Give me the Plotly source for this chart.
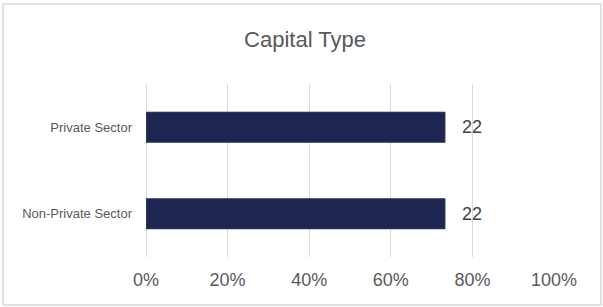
import plotly.graph_objects as go

categories = ["Non-Private Sector", "Private Sector"]
share_pct = [73.3, 73.3]
count_labels = ["22", "22"]
tick_vals = [0, 20, 40, 60, 80, 100]
tick_text = ["0%", "20%", "40%", "60%", "80%", "100%"]

W, H = 603, 307
L, R, T, B = 146, 49, 84, 50
pw, ph = W - L - R, H - T - B

def px_x(x):
    return (x - L) / pw

def px_y(y):
    return (H - B - y) / ph

FONT = "Liberation Sans, Arial"

fig = go.Figure(go.Bar(
    y=categories, x=share_pct, orientation="h",
    marker=dict(color="#1F2551", line=dict(color="#3A4470", width=0.8)),
    width=0.35,
    hoverinfo="skip",
))

annotations = [
    dict(x=v, y=c, xref="x", yref="y", text=t, showarrow=False,
         xanchor="left", yanchor="middle", xshift=15,
         font=dict(family=FONT, size=18, color="#404040"))
    for c, v, t in zip(categories, share_pct, count_labels)
]

fig.update_layout(
    width=W, height=H,
    margin=dict(l=L, r=R, t=T, b=B),
    paper_bgcolor="white", plot_bgcolor="white",
    showlegend=False,
    title=dict(text="Capital Type", x=(305 - L) / pw, xanchor="center", xref="paper",
               y=1 - 39 / H, yanchor="middle",
               font=dict(family=FONT, size=22, color="#595959")),
    xaxis=dict(range=[0, 100], tickvals=tick_vals, ticktext=tick_text,
               showgrid=True, gridcolor="#D9D9D9", gridwidth=1,
               zeroline=True, zerolinecolor="#D9D9D9", zerolinewidth=1,
               showline=False, ticks="", ticklabelstandoff=10,
               tickfont=dict(family=FONT, size=18, color="#595959")),
    yaxis=dict(showgrid=False, zeroline=False, showline=False, ticks="",
               ticklabelstandoff=13,
               tickfont=dict(family=FONT, size=13, color="#595959")),
    annotations=annotations,
    shapes=[dict(type="rect", xref="paper", yref="paper",
                 x0=px_x(3), x1=px_x(601), y0=px_y(305), y1=px_y(4),
                 line=dict(color="#D9D9D9", width=1.5), fillcolor="rgba(0,0,0,0)",
                 layer="below")],
)

fig.write_html("out.html", config={"displayModeBar": False},
               post_script="document.body.style.margin='0px';")
